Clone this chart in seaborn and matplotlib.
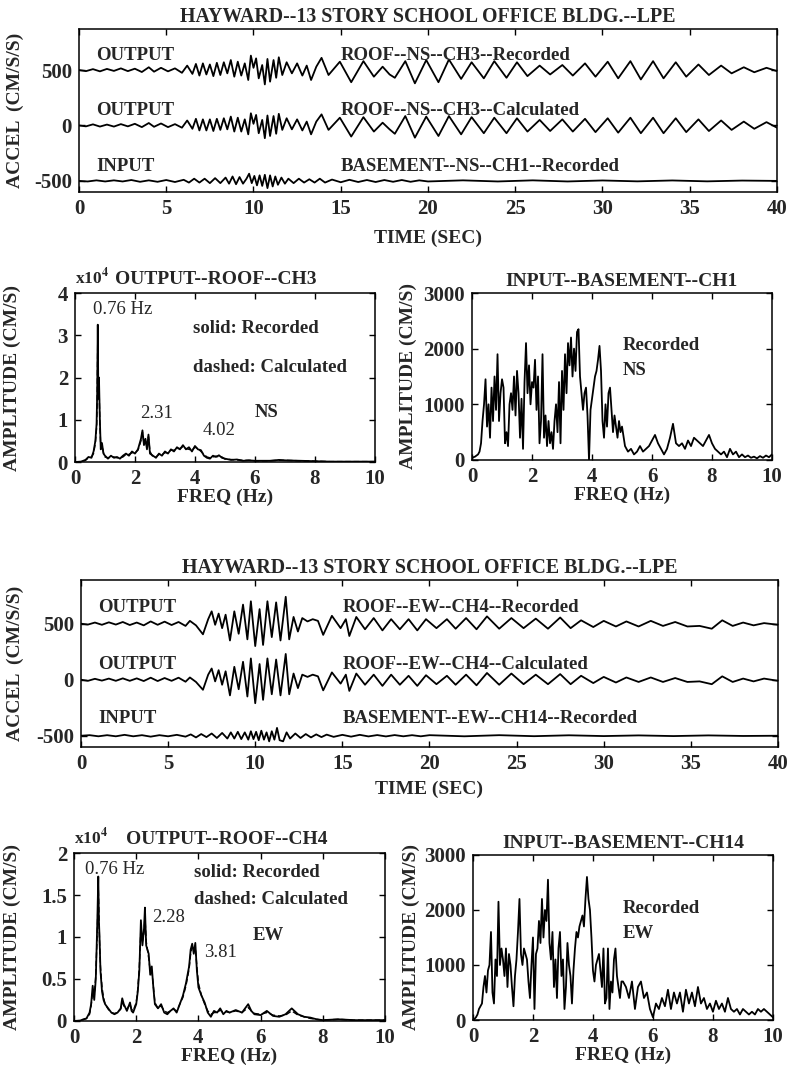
import numpy as np
import matplotlib
matplotlib.use("Agg")
import matplotlib.pyplot as plt
import seaborn as sns

# ---- time histories (cm/s/s); offsets added at plot time
ns_t = [0, 0.4, 0.8, 1.2, 1.6, 2.0, 2.4, 2.8, 3.2, 3.6,
        4.0, 4.3, 4.7, 5.1, 5.5, 5.9, 6.2, 6.5, 6.7, 6.9,
        7.1, 7.3, 7.5, 7.7, 7.9, 8.1, 8.3, 8.5, 8.7, 8.9,
        9.1, 9.3, 9.5, 9.7, 9.85, 10.0, 10.15, 10.3, 10.5, 10.65,
        10.8, 10.95, 11.15, 11.3, 11.45, 11.65, 11.9, 12.2, 12.5, 12.8,
        13.05, 13.3, 13.6, 13.9, 14.3, 14.95, 15.6, 16.3, 16.9, 17.4,
        17.8, 18.1, 18.7, 19.25, 19.9, 20.6, 21.2, 21.9, 22.5, 23.2,
        23.8, 24.5, 25.1, 25.7, 26.4, 27.0, 27.7, 28.3, 29.0, 29.6,
        30.3, 30.9, 31.6, 32.2, 32.9, 33.5, 34.2, 34.8, 35.5, 36.1,
        36.8, 37.4, 38.1, 38.7, 39.4, 40.0]
ns_rec = [0, -10, 8, -12, 10, -8, 15, -10, 12, -18,
          25, -15, 20, -12, 15, -25, 40, -35, 55, -50,
          60, -40, 50, -55, 65, -45, 70, -30, 90, -60,
          75, -50, 60, -90, 130, 20, 105, -75, 45, -130,
          100, -105, 90, -70, 115, -45, 70, -30, 60, -50,
          40, -90, 30, 110, -45, 75, -110, 80, -60, 30,
          -40, -70, 80, -120, 90, -110, 95, -80, 70, -75,
          80, -70, 70, -55, 40, -40, 45, -50, 60, -60,
          75, -75, 80, -85, 80, -75, 70, -60, 50, -45,
          40, -30, 25, -20, 20, -10]
ns_calc = [0, -8, 10, -10, 8, -10, 12, -8, 15, -15,
           22, -12, 18, -15, 12, -20, 45, -30, 60, -45,
           55, -45, 55, -50, 60, -40, 65, -35, 80, -55,
           70, -55, 55, -80, 110, 15, 95, -70, 50, -115,
           90, -95, 85, -75, 105, -40, 65, -35, 55, -45,
           35, -80, 35, 100, -40, 70, -100, 75, -55, 25,
           -35, -75, 85, -110, 80, -95, 85, -80, 75, -70,
           70, -70, 65, -55, 50, -50, 55, -55, 60, -60,
           65, -65, 70, -70, 70, -70, 65, -60, 55, -50,
           45, -40, 35, -30, 30, -20]

ew_t = [0, 0.4, 0.8, 1.2, 1.6, 2.0, 2.4, 2.8, 3.2, 3.6,
        4.0, 4.4, 4.8, 5.2, 5.6, 6.0, 6.25, 6.6, 7.0, 7.3,
        7.5, 7.7, 7.9, 8.1, 8.3, 8.55, 8.8, 9.05, 9.3, 9.55,
        9.75, 10.0, 10.25, 10.45, 10.7, 10.95, 11.2, 11.45, 11.75, 11.95,
        12.2, 12.45, 12.7, 13.0, 13.3, 13.6, 13.9, 14.4, 14.9, 15.2,
        15.4, 15.8, 16.3, 16.8, 17.3, 17.8, 18.3, 18.8, 19.3, 19.8,
        20.4, 21.0, 21.5, 22.1, 22.7, 23.3, 24.0, 24.7, 25.4, 26.1,
        26.8, 27.5, 28.1, 28.7, 29.4, 30.0, 30.7, 31.3, 32.0, 32.7,
        33.4, 34.1, 34.8, 35.5, 36.2, 36.8, 37.4, 38.0, 38.6, 39.2,
        40.0]
ew_rec = [0, -8, 10, -10, 12, -8, 15, -12, 10, -15,
          20, -10, 18, -12, 15, -20, 25, -15, -95, 40,
          110, -10, 90, -40, 80, -150, 110, -90, 170, -140,
          200, -200, 130, -190, 200, -120, 190, -150, 240, -140,
          60, -70, 50, 20, 40, 25, -100, 70, -40, 40,
          -110, 60, -50, 50, -60, 40, -50, 40, -60, 40,
          -40, 40, -45, 50, -50, 65, -45, 50, -40, 45,
          -45, 55, -40, 30, -30, 25, -25, 20, -25, 25,
          -20, 15, -25, -20, -45, 30, -20, 10, -15, 5,
          -10]
ew_calc = [0, -10, 8, -8, 10, -10, 12, -10, 12, -12,
           18, -12, 15, -10, 18, -18, 20, -20, -90, 45,
           100, -15, 85, -45, 75, -140, 115, -85, 160, -150,
           190, -210, 140, -180, 190, -130, 180, -140, 230, -130,
           55, -75, 45, 25, 45, 30, -95, 65, -35, 45,
           -100, 55, -45, 45, -55, 45, -45, 35, -55, 40,
           -40, 35, -45, 45, -50, 60, -45, 55, -40, 45,
           -40, 50, -40, 35, -30, 25, -25, 20, -20, 20,
           -20, 15, -20, -15, -40, 30, -20, 10, -15, 10,
           -10]

in_t = [0, 0.5, 1.0, 1.5, 2.0, 2.5, 3.0, 3.5, 4.0, 4.5,
        5.0, 5.5, 6.0, 6.3, 6.6, 6.9, 7.2, 7.5, 7.8, 8.1,
        8.4, 8.6, 8.8, 9.0, 9.2, 9.4, 9.6, 9.75, 9.9, 10.05,
        10.2, 10.35, 10.5, 10.65, 10.8, 10.95, 11.1, 11.25, 11.4, 11.6,
        11.8, 12.0, 12.3, 12.6, 12.9, 13.2, 13.5, 13.8, 14.1, 14.5,
        15.0, 15.5, 16.0, 16.5, 17.0, 17.5, 18.0, 18.5, 19.0, 19.5,
        20.0, 22, 24, 26, 28, 30, 32, 34, 36, 38,
        40]
ns_in = [0, -5, 5, -5, 5, -5, 8, -8, 5, -8,
         8, -10, 10, -15, 20, -15, 20, -20, 25, -20,
         30, -25, 40, -30, 35, -25, 20, 65, -20, 45,
         -40, 50, -45, 55, -65, 50, -50, 40, -35, 30,
         -25, 20, -20, 20, -15, 15, -15, 20, -15, 12,
         -12, 10, -10, 8, -10, 8, -8, 8, -8, 5,
         -5, 5, -5, 5, -5, 4, -4, 4, -4, 3,
         0]
ew_in = [0, 5, -5, 5, -5, 8, -5, 5, -8, 5,
         -5, 8, -8, 12, -15, 15, -12, 20, -20, 25,
         -25, 30, -25, 35, -30, 30, -35, 40, -30, 35,
         -40, 45, -35, 30, -50, 40, -35, 70, -40, -50,
         30, -25, 20, -20, 15, -15, 12, -12, 10, -10,
         8, -8, 8, -6, 6, -6, 6, -5, 5, -5,
         5, -5, 5, -4, 4, -3, 3, -3, 3, -2,
         0]

# ---- roof Fourier amplitude (x10^4 cm/s)
ns_f = [0, 0.2, 0.35, 0.45, 0.55, 0.62, 0.68, 0.72, 0.74, 0.76,
        0.78, 0.8, 0.83, 0.86, 0.9, 0.95, 1.0, 1.1, 1.2, 1.3,
        1.4, 1.5, 1.6, 1.7, 1.8, 1.9, 2.0, 2.1, 2.2, 2.25,
        2.3, 2.35, 2.4, 2.45, 2.5, 2.6, 2.7, 2.8, 2.9, 3.0,
        3.1, 3.2, 3.3, 3.4, 3.5, 3.6, 3.7, 3.8, 3.9, 4.0,
        4.1, 4.2, 4.3, 4.4, 4.5, 4.6, 4.7, 4.8, 4.9, 5.0,
        5.2, 5.4, 5.6, 5.8, 6.0, 6.5, 6.8, 7.0, 7.5, 8.0,
        8.5, 9.0, 10.0]
ns_amp_rec = [0, 0.01, 0.05, 0.12, 0.1, 0.25, 0.5, 0.9, 1.6, 3.25,
              1.5, 2.0, 1.0, 0.3, 0.45, 0.2, 0.15, 0.08, 0.15, 0.1,
              0.12, 0.08, 0.15, 0.2, 0.15, 0.25, 0.2, 0.3, 0.55, 0.75,
              0.4, 0.55, 0.3, 0.65, 0.2, 0.15, 0.1, 0.2, 0.15, 0.25,
              0.2, 0.3, 0.25, 0.35, 0.3, 0.4, 0.3, 0.35, 0.25, 0.38,
              0.3, 0.28, 0.15, 0.1, 0.08, 0.15, 0.12, 0.16, 0.1, 0.08,
              0.05, 0.06, 0.03, 0.04, 0.03, 0.03, 0.05, 0.04, 0.03, 0.02,
              0.01, 0.01, 0.01]
ns_amp_calc = [0, 0.01, 0.04, 0.1, 0.12, 0.2, 0.45, 0.8, 1.4, 3.0,
               1.8, 1.9, 0.9, 0.35, 0.4, 0.22, 0.12, 0.1, 0.12, 0.12,
               0.1, 0.1, 0.12, 0.18, 0.18, 0.22, 0.22, 0.28, 0.5, 0.7,
               0.45, 0.5, 0.35, 0.6, 0.25, 0.12, 0.12, 0.18, 0.18, 0.22,
               0.22, 0.28, 0.28, 0.32, 0.32, 0.36, 0.32, 0.3, 0.28, 0.35,
               0.32, 0.25, 0.18, 0.12, 0.1, 0.12, 0.14, 0.12, 0.12, 0.07,
               0.06, 0.05, 0.04, 0.04, 0.03, 0.03, 0.04, 0.04, 0.03, 0.02,
               0.01, 0.01, 0.01]

ew_f = [0, 0.2, 0.3, 0.4, 0.5, 0.55, 0.6, 0.65, 0.7, 0.75,
        0.78, 0.8, 0.82, 0.85, 0.9, 0.95, 1.0, 1.1, 1.2, 1.3,
        1.4, 1.5, 1.55, 1.6, 1.7, 1.8, 1.85, 1.9, 2.0, 2.05,
        2.1, 2.15, 2.2, 2.25, 2.28, 2.32, 2.4, 2.45, 2.5, 2.55,
        2.6, 2.7, 2.8, 2.9, 3.0, 3.1, 3.2, 3.3, 3.4, 3.5,
        3.6, 3.7, 3.75, 3.8, 3.85, 3.9, 3.95, 4.0, 4.1, 4.2,
        4.3, 4.4, 4.5, 4.6, 4.7, 4.8, 4.9, 5.0, 5.2, 5.4,
        5.6, 5.7, 5.8, 6.0, 6.2, 6.4, 6.6, 6.8, 7.0, 7.2,
        7.4, 7.6, 7.8, 8.0, 8.5, 9.0, 9.5, 10.0]
ew_amp_rec = [0, 0.005, 0.02, 0.03, 0.1, 0.2, 0.42, 0.25, 0.5, 1.2,
              1.72, 1.2, 1.0, 0.6, 0.35, 0.25, 0.2, 0.15, 0.1, 0.08,
              0.1, 0.15, 0.27, 0.2, 0.12, 0.22, 0.12, 0.1, 0.2, 0.35,
              0.6, 1.2, 0.9, 1.1, 1.35, 0.9, 0.8, 0.55, 0.65, 0.4,
              0.2, 0.15, 0.2, 0.1, 0.08, 0.12, 0.15, 0.1, 0.2, 0.3,
              0.45, 0.65, 0.85, 0.92, 0.8, 0.93, 0.6, 0.4, 0.3, 0.22,
              0.1, 0.05, 0.12, 0.1, 0.15, 0.08, 0.12, 0.1, 0.13, 0.1,
              0.2, 0.12, 0.08, 0.07, 0.12, 0.06, 0.05, 0.08, 0.15, 0.08,
              0.05, 0.04, 0.02, 0.01, 0.02, 0.01, 0.01, 0.01]
ew_amp_calc = [0, 0.005, 0.015, 0.03, 0.08, 0.18, 0.35, 0.3, 0.55, 1.1,
               1.6, 1.3, 0.95, 0.65, 0.4, 0.28, 0.2, 0.14, 0.1, 0.09,
               0.1, 0.14, 0.22, 0.18, 0.14, 0.2, 0.14, 0.12, 0.22, 0.38,
               0.65, 1.1, 0.95, 1.05, 1.25, 0.95, 0.75, 0.6, 0.6, 0.42,
               0.22, 0.15, 0.18, 0.12, 0.1, 0.12, 0.14, 0.12, 0.2, 0.28,
               0.42, 0.62, 0.8, 0.9, 0.85, 0.88, 0.65, 0.45, 0.3, 0.2,
               0.12, 0.08, 0.1, 0.1, 0.13, 0.1, 0.11, 0.1, 0.12, 0.1,
               0.16, 0.12, 0.09, 0.08, 0.1, 0.07, 0.06, 0.07, 0.12, 0.07,
               0.05, 0.03, 0.02, 0.01, 0.02, 0.01, 0.01, 0.01]

# ---- basement Fourier amplitude (cm/s); 0-5 Hz every 0.05, 5.1-10 Hz every 0.1
ns_base_amp = [30, 50, 60, 80, 100, 150, 300, 700, 1000, 1450,
               600, 1000, 400, 1300, 700, 1500, 900, 1900, 700, 1200,
               1450, 1300, 300, 500, 250, 1000, 1200, 900, 1500, 800,
               1600, 1200, 400, 1100, 200, 1400, 2100, 1200, 1700, 1000,
               1400, 1300, 1800, 900, 1500, 300, 700, 1900, 400, 800,
               250, 700, 300, 500, 200, 700, 1000, 500, 1400, 300,
               1600, 900, 1900, 1200, 2100, 1700, 2200, 1500, 2000, 1600,
               2300, 2350, 1500, 1200, 900, 1200, 1300, 800, 0, 900,
               1100, 1300, 1500, 1600, 1800, 2050, 1600, 700, 400, 1000,
               600, 1200, 1300, 900, 500, 800, 600, 400, 700, 500,
               600,
               250, 150, 200, 100, 150, 250, 150, 200, 250, 350,
               450, 300, 200, 100, 200, 400, 650, 300, 250, 300,
               200, 350, 250, 400, 350, 300, 250, 350, 450, 300,
               200, 150, 100, 150, 50, 200, 100, 150, 50, 100,
               50, 80, 40, 60, 30, 70, 40, 80, 50, 100]
ew_base_amp = [0, 20, 50, 100, 200, 250, 300, 600, 800, 500,
               900, 1000, 1600, 500, 300, 1100, 800, 2150, 1000, 1300,
               1100, 800, 1300, 600, 1200, 1000, 600, 250, 800, 1100,
               1600, 2200, 1200, 1000, 1300, 1200, 1100, 700, 400, 1000,
               1500, 200, 1200, 1300, 1800, 1400, 2200, 1500, 2000, 1800,
               2550, 1400, 1100, 1600, 600, 1100, 400, 1300, 1600, 800,
               1100, 200, 600, 1400, 1000, 800, 300, 900, 1300, 1600,
               1500, 1700, 1800, 1900, 1700, 2200, 2600, 2200, 2000, 1500,
               900, 700, 1000, 1100, 1200, 900, 600, 1300, 300, 400,
               1300, 200, 700, 500, 1100, 1300, 800, 600, 400, 700,
               700,
               600, 400, 700, 200, 600, 700, 400, 500, 200, 50,
               300, 200, 400, 250, 550, 200, 500, 300, 500, 150,
               550, 300, 500, 250, 600, 300, 400, 200, 300, 150,
               350, 200, 300, 150, 400, 200, 150, 200, 100, 200,
               150, 100, 150, 100, 200, 150, 200, 150, 100, 50]
base_f = np.concatenate([np.linspace(0, 5, 101), np.linspace(5.1, 10, 50)])

sns.set_style("ticks")
plt.rcParams["font.family"] = ["Liberation Serif", "DejaVu Serif"]
plt.rcParams["font.weight"] = "bold"
plt.rcParams["mathtext.fontset"] = "stix"
plt.rcParams["axes.unicode_minus"] = False
plt.rcParams["xtick.direction"] = "in"
plt.rcParams["ytick.direction"] = "in"
plt.rcParams["axes.linewidth"] = 1.1

FS = 13.5      # in-plot labels
TFS = 15       # tick labels
LFS = 14       # axis labels
LW = 1.3
fig = plt.figure(figsize=(7.9, 10.78), dpi=100)


def style(ax, xticks, yticks, ylabels=None):
    ax.set_xticks(xticks)
    ax.set_yticks(yticks)
    if ylabels is not None:
        ax.set_yticklabels(ylabels)
    ax.tick_params(which="both", top=True, right=True, length=4, width=1,
                   labelsize=TFS, pad=5, color="black")
    for lbl in ax.get_xticklabels() + ax.get_yticklabels():
        lbl.set_fontweight("bold")
    for s in ax.spines.values():
        s.set_color("black")
        s.set_visible(True)
    ax.set_xlabel("")
    ax.set_ylabel("")


def line(ax, x, y, ls="-", lw=LW):
    sns.lineplot(x=x, y=y, ax=ax, color="black", lw=lw, ls=ls,
                 estimator=None, sort=False, legend=False)


def time_panel(rect, rec, calc, inp, t_out, comp, ch_out, ch_in, ylim, lbl_pos):
    ax = fig.add_axes(rect)
    line(ax, t_out, np.array(rec) + 500)
    line(ax, t_out, np.array(calc))
    line(ax, in_t, np.array(inp) - 500)
    ax.set_xlim(0, 40)
    ax.set_ylim(*ylim)
    style(ax, range(0, 41, 5), [-500, 0, 500])
    ax.set_title("HAYWARD--13 STORY SCHOOL OFFICE BLDG.--LPE",
                 fontsize=14.3, fontweight="bold", pad=5)
    ax.set_xlabel("TIME (SEC)", fontsize=LFS, fontweight="bold")
    ax.set_ylabel("ACCEL  (CM/S/S)", fontsize=LFS, fontweight="bold")
    ax.xaxis.set_label_coords(0.5, lbl_pos[0])
    ax.yaxis.set_label_coords(lbl_pos[1], 0.5)
    y1, y2, y3 = lbl_pos[2]
    kw = dict(fontsize=FS, va="baseline", ha="left")
    ax.text(1.0, y1, "OUTPUT", **kw)
    ax.text(15.0, y1, f"ROOF--{comp}--{ch_out}--Recorded", **kw)
    ax.text(1.0, y2, "OUTPUT", **kw)
    ax.text(15.0, y2, f"ROOF--{comp}--{ch_out}--Calculated", **kw)
    ax.text(1.0, y3, "INPUT", **kw)
    ax.text(15.0, y3, f"BASEMENT--{comp}--{ch_in}--Recorded", **kw)
    return ax


def amp_ylabel(ax, xpos):
    ax.set_ylabel("AMPLITUDE (CM/S)", fontsize=LFS, fontweight="bold")
    ax.yaxis.set_label_coords(xpos, 0.5)
    ax.set_xlabel("FREQ (Hz)", fontsize=LFS, fontweight="bold")
    ax.xaxis.set_label_coords(0.5, -0.16)


peak_kw = dict(fontsize=FS, va="baseline", fontweight="normal")

# ---------------- NS block
time_panel([0.1000, 0.8219, 0.8835, 0.1512], ns_rec, ns_calc, ns_in, ns_t,
           "NS", "CH3", "CH1", (-600, 870), (-0.23, -0.079, (590, 95, -410)))

ax = fig.add_axes([0.0949, 0.5714, 0.3797, 0.1568])
line(ax, ns_f, ns_amp_rec)
line(ax, ns_f, ns_amp_calc, ls=(0, (4, 2)), lw=1.0)
ax.set_xlim(0, 10)
ax.set_ylim(0, 4)
style(ax, range(0, 11, 2), range(0, 5))
amp_ylabel(ax, -0.18)
ax.text(0.0, 1.03, "x10$^4$", transform=ax.transAxes, fontsize=FS - 1, ha="left", va="bottom")
ax.text(0.47, 1.03, "OUTPUT--ROOF--CH3", transform=ax.transAxes, fontsize=14, ha="center", va="bottom")
ax.text(0.6, 3.5, "0.76 Hz", **peak_kw)
ax.text(3.93, 3.05, "solid: Recorded", fontsize=FS, va="baseline")
ax.text(3.93, 2.14, "dashed: Calculated", fontsize=FS, va="baseline")
ax.text(2.17, 1.05, "2.31", **peak_kw)
ax.text(4.27, 0.64, "4.02", **peak_kw)
ax.text(6.0, 1.07, "NS", fontsize=FS, va="baseline")

ax = fig.add_axes([0.5975, 0.5733, 0.3797, 0.1549])
line(ax, base_f, ns_base_amp)
ax.set_xlim(0, 10)
ax.set_ylim(0, 3000)
style(ax, range(0, 11, 2), [0, 1000, 2000, 3000])
amp_ylabel(ax, -0.183)
ax.set_title("INPUT--BASEMENT--CH1", fontsize=14, fontweight="bold", pad=5)
ax.text(5.03, 1980, "Recorded", fontsize=FS, va="baseline")
ax.text(5.03, 1530, "NS", fontsize=FS, va="baseline")

# ---------------- EW block
time_panel([0.1025, 0.3071, 0.8823, 0.1549], ew_rec, ew_calc, ew_in, ew_t,
           "EW", "CH4", "CH14", (-600, 890), (-0.205, -0.082, (608, 99, -384)))

ax = fig.add_axes([0.0937, 0.0529, 0.3937, 0.1558])
line(ax, ew_f, ew_amp_rec)
line(ax, ew_f, ew_amp_calc, ls=(0, (4, 2)), lw=1.0)
ax.set_xlim(0, 10)
ax.set_ylim(0, 2)
style(ax, range(0, 11, 2), [0, 0.5, 1, 1.5, 2], ["0", "0.5", "1", "1.5", "2"])
amp_ylabel(ax, -0.17)
ax.text(0.0, 1.03, "x10$^4$", transform=ax.transAxes, fontsize=FS - 1, ha="left", va="bottom")
ax.text(0.49, 1.03, "OUTPUT--ROOF--CH4", transform=ax.transAxes, fontsize=14, ha="center", va="bottom")
ax.text(0.35, 1.75, "0.76 Hz", **peak_kw)
ax.text(3.86, 1.71, "solid: Recorded", fontsize=FS, va="baseline")
ax.text(3.86, 1.39, "dashed: Calculated", fontsize=FS, va="baseline")
ax.text(2.5, 1.18, "2.28", **peak_kw)
ax.text(5.76, 0.96, "EW", fontsize=FS, va="baseline")
ax.text(4.18, 0.76, "3.81", **peak_kw)

ax = fig.add_axes([0.5987, 0.0538, 0.3797, 0.1531])
line(ax, base_f, ew_base_amp)
ax.set_xlim(0, 10)
ax.set_ylim(0, 3000)
style(ax, range(0, 11, 2), [0, 1000, 2000, 3000])
amp_ylabel(ax, -0.178)
ax.set_title("INPUT--BASEMENT--CH14", fontsize=14, fontweight="bold", pad=5)
ax.text(5.0, 1945, "Recorded", fontsize=FS, va="baseline")
ax.text(5.0, 1490, "EW", fontsize=FS, va="baseline")

fig.savefig("out.png", dpi=100, facecolor="white")
